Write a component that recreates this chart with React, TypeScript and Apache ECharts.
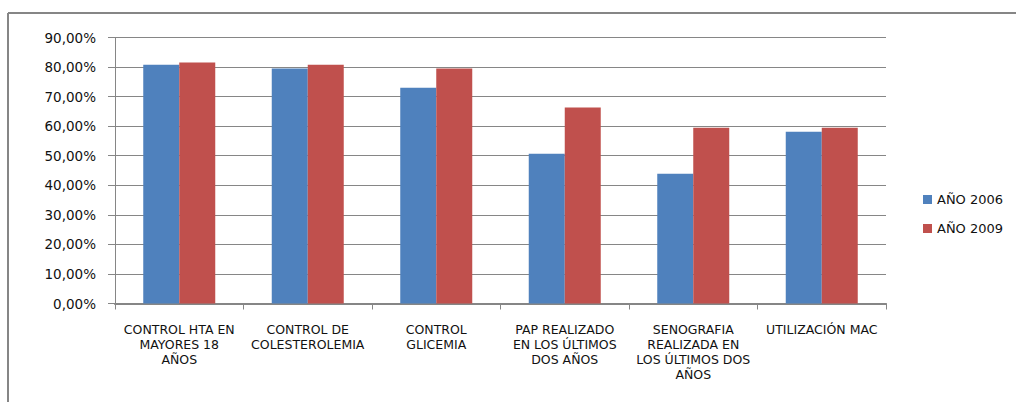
import React, { useEffect, useRef } from "react";
import * as echarts from "echarts";

const categories = [
  "CONTROL HTA EN\nMAYORES 18\nAÑOS",
  "CONTROL DE\nCOLESTEROLEMIA",
  "CONTROL\nGLICEMIA",
  "PAP REALIZADO\nEN LOS ÚLTIMOS\nDOS AÑOS",
  "SENOGRAFIA\nREALIZADA EN\nLOS ÚLTIMOS DOS\nAÑOS",
  "UTILIZACIÓN MAC",
];
const seriesNames = ["AÑO 2006", "AÑO 2009"];
const values2006 = [80.8, 79.5, 73.0, 50.7, 43.9, 58.1];
const values2009 = [81.5, 80.8, 79.5, 66.3, 59.5, 59.5];

const GRAY = "#868686";

export default function App() {
  const ref = useRef<HTMLDivElement>(null);
  useEffect(() => {
    if (!ref.current) return;
    const chart = echarts.init(ref.current, undefined, { renderer: "svg" });
    chart.setOption({
      animation: false,
      backgroundColor: "#ffffff",
      textStyle: { fontFamily: "DejaVu Sans" },
      grid: { left: 115, right: 130, top: 37.5, bottom: 98.5 },
      legend: {
        orient: "vertical",
        left: 918,
        top: 188,
        itemWidth: 9,
        itemHeight: 9,
        itemGap: 16,
        icon: "rect",
        data: seriesNames,
        textStyle: { fontSize: 13, color: "#111", fontFamily: "DejaVu Sans" },
      },
      xAxis: {
        type: "category",
        data: categories,
        axisLine: { lineStyle: { color: GRAY, width: 2 } },
        axisTick: { show: true, length: 6, alignWithLabel: false, lineStyle: { color: GRAY } },
        axisLabel: {
          interval: 0,
          fontSize: 12.5,
          lineHeight: 15,
          color: "#111",
          margin: 18,
          fontFamily: "DejaVu Sans",
        },
      },
      yAxis: {
        type: "value",
        min: 0,
        max: 90,
        interval: 10,
        axisLine: { show: true, lineStyle: { color: GRAY, width: 1 } },
        axisTick: { show: true, length: 7, lineStyle: { color: GRAY } },
        splitLine: { show: true, lineStyle: { color: GRAY, width: 1 } },
        axisLabel: {
          fontSize: 13.5,
          color: "#111",
          margin: 19,
          fontFamily: "DejaVu Sans",
          formatter: (v: number) => v.toFixed(2).replace(".", ",") + "%",
        },
      },
      series: [
        {
          name: seriesNames[0],
          type: "bar",
          data: values2006,
          barWidth: 36,
          barGap: "0%",
          itemStyle: { color: "#4F81BD" },
        },
        {
          name: seriesNames[1],
          type: "bar",
          data: values2009,
          barWidth: 36,
          barGap: "0%",
          itemStyle: { color: "#C0504D" },
        },
      ],
      graphic: [
        {
          type: "line",
          shape: { x1: 8, y1: 13, x2: 1016, y2: 13 },
          style: { stroke: GRAY, lineWidth: 2 },
        },
        {
          type: "line",
          shape: { x1: 8, y1: 13, x2: 8, y2: 402 },
          style: { stroke: GRAY, lineWidth: 2 },
        },
      ],
    });
    return () => chart.dispose();
  }, []);
  return (
    <div
      ref={ref}
      style={{ position: "fixed", left: 0, top: 0, width: 1016, height: 402, background: "#fff" }}
    />
  );
}
